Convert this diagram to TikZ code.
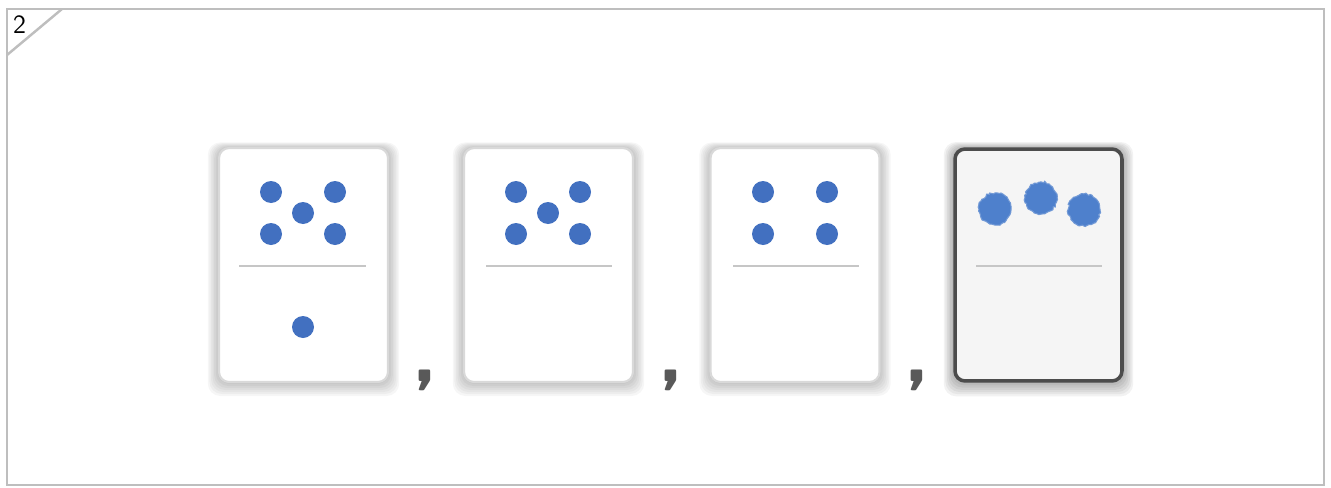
\documentclass[tikz,border=0pt]{standalone}
\usepackage{tikz}
\usetikzlibrary{positioning, calc, decorations.pathmorphing}

\definecolor{dotblue}{RGB}{66,112,192}
\definecolor{chalkblue}{RGB}{78,128,204}
\definecolor{framegray}{RGB}{190,190,190}

\begin{document}
\begin{tikzpicture}[x=0.02cm, y=-0.02cm,
    card/.style={draw=gray!30, line width=1.2pt, fill=white, rounded corners=0.2cm,
                 minimum width=3.38cm, minimum height=4.68cm, inner sep=0pt},
    pip/.style={circle, fill=dotblue, minimum size=0.44cm, inner sep=0pt},
    chalk/.style={fill=chalkblue, draw=chalkblue!80, line width=0.6pt,
                  decorate, decoration={random steps, segment length=1.2pt, amplitude=0.6pt}},
    divider/.style={draw=gray!45, line width=0.8pt},
    sep/.style={font=\fontsize{50}{50}\selectfont\sffamily\bfseries, text=black!65, anchor=base, inner sep=0pt}]
    \useasboundingbox (0,0) rectangle (1331,487);

    % frame with number tag
    \draw[framegray, line width=1.6pt] (7,9) rectangle (1324,485);
    \draw[framegray, line width=1.4pt] (7,55) -- (62,9);
    \node[font=\fontsize{15}{17}\selectfont\sffamily, anchor=west, inner sep=1pt] (tag) at (11,25) {2};

    % soft shadows behind the cards
    \foreach \cx in {303.5, 548.5, 795} {
        \foreach \s in {1,...,7}
            \fill[black, opacity=0.035, rounded corners=0.25cm]
                (\cx-84.5-\s*1.6, 148-\s*0.8) rectangle (\cx+84.5+\s*1.6, 382+\s*2.0);
    }
    \foreach \s in {1,...,7}
        \fill[black, opacity=0.05, rounded corners=0.25cm]
            (1038.5-83.5-\s*1.6, 149-\s*1.0) rectangle (1038.5+83.5+\s*1.6, 381+\s*2.2);

    % cards
    \node[card] (card1) at (303.5,265) {};
    \node[card] (card2) at (548.5,265) {};
    \node[card] (card3) at (795,265) {};
    \node[card, fill=gray!8, draw=black!70, line width=2pt,
          minimum width=3.34cm, minimum height=4.64cm] (card4) at (1038.5,265) {};

    % dividers
    \draw[divider] (239,266) -- (366,266);
    \draw[divider] (486,266) -- (612,266);
    \draw[divider] (733,266) -- (859,266);
    \draw[divider] (976,266) -- (1102,266);

    % pips: five over one
    \node[pip] (a1) at (271,192) {};
    \node[pip] (a2) at (335,192) {};
    \node[pip] (a3) at (303,213) {};
    \node[pip] (a4) at (271,234) {};
    \node[pip] (a5) at (335,234) {};
    \node[pip] (a6) at (303,327) {};

    % five over blank
    \node[pip] (b1) at (516,192) {};
    \node[pip] (b2) at (580,192) {};
    \node[pip] (b3) at (548,213) {};
    \node[pip] (b4) at (516,234) {};
    \node[pip] (b5) at (580,234) {};

    % four over blank
    \node[pip] (c1) at (763,192) {};
    \node[pip] (c2) at (827,192) {};
    \node[pip] (c3) at (763,234) {};
    \node[pip] (c4) at (827,234) {};

    % hand drawn three
    \fill[chalk] (995,209) circle (16);
    \fill[chalk] (1041,198) circle (16);
    \fill[chalk] (1084,210) circle (16);

    % commas between the cards
    \node[sep] (s1) at (425,381) {,};
    \node[sep] (s2) at (671,381) {,};
    \node[sep] (s3) at (917,381) {,};
\end{tikzpicture}
\end{document}
